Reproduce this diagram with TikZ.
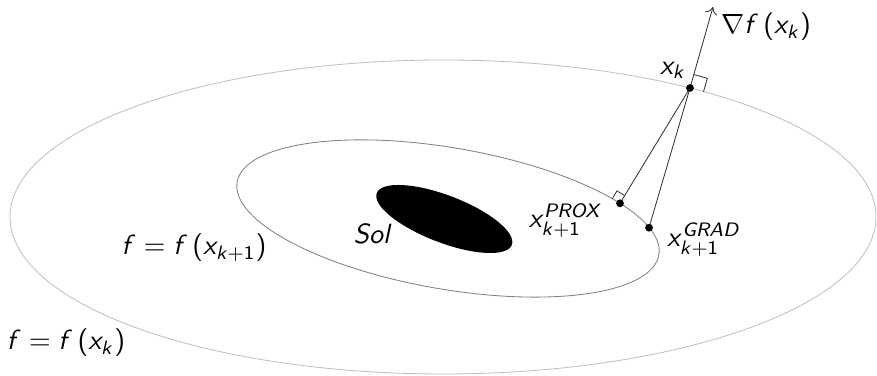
\documentclass[tikz,border=0pt]{standalone}
\usetikzlibrary{calc,arrows.meta}
\DeclareMathVersion{sansv}
\SetSymbolFont{operators}{sansv}{OT1}{cmss}{m}{n}
\SetSymbolFont{letters}{sansv}{OT1}{cmss}{m}{sl}
\tikzset{
  levelout/.style={draw=black!25,line width=0.3pt},
  levelin/.style={draw=black!50,line width=0.3pt},
  seg/.style={draw=black!80,line width=0.3pt},
  ramark/.style={draw=black!80,line width=0.3pt},
  lbl/.style={inner sep=0pt,font=\mathversion{sansv}},
}
\begin{document}
\begin{tikzpicture}[x=0.36pt,y=0.36pt]
\useasboundingbox (0,0) rectangle (877,376);
% level sets
\draw[levelout] (443,159) ellipse [x radius=155.88pt, y radius=56.52pt];
\draw[levelin, rotate around={-9.8:(448,157.5)}] (448,157.5) ellipse [x radius=77.04pt, y radius=25.45pt];
\fill[black, rotate around={-21:(444.3,157)}] (444.3,157) ellipse [x radius=26.03pt, y radius=8.5pt];
% points
\coordinate (xk) at (690,288);
\coordinate (tip) at (713,369);
\coordinate (prox) at (620,172.7);
\coordinate (grad) at (649,148.3);
% connectors
\draw[seg,-{To[length=2.6pt,width=4.6pt]}] (xk) -- (tip);
\draw[seg] (xk) -- (prox);
\draw[seg] (xk) -- (grad);
% right angle marks
\coordinate (ku) at ($(xk)!5.04pt!(tip)$);
\coordinate (kt) at ($(xk)!5.04pt!-90:(tip)$);
\draw[ramark] (ku) -- ($(ku)+(kt)-(xk)$) -- (kt);
\coordinate (pu) at ($(prox)!3.24pt!(xk)$);
\coordinate (pt) at ($(prox)!3.24pt!90:(xk)$);
\draw[ramark] (pu) -- ($(pu)+(pt)-(prox)$) -- (pt);
% dots
\fill (xk) circle [radius=1.4pt];
\fill (prox) circle [radius=1.4pt];
\fill (grad) circle [radius=1.4pt];
% labels
\node[lbl] (lxk) at (673,306) {$x_k$};
\node[lbl] (lgrad0) at (766,349) {$\nabla f\left(x_k\right)$};
\node[lbl] (lprox) at (566,155) {$x_{k+1}^{PROX}$};
\node[lbl] (lgrad) at (704,136) {$x_{k+1}^{GRAD}$};
\node[lbl] (lsol) at (373,142) {$Sol$};
\node[lbl] (lf1) at (194,128) {$f=f\left(x_{k+1}\right)$};
\node[lbl] (lf0) at (66,33) {$f=f\left(x_k\right)$};
\end{tikzpicture}
\end{document}
